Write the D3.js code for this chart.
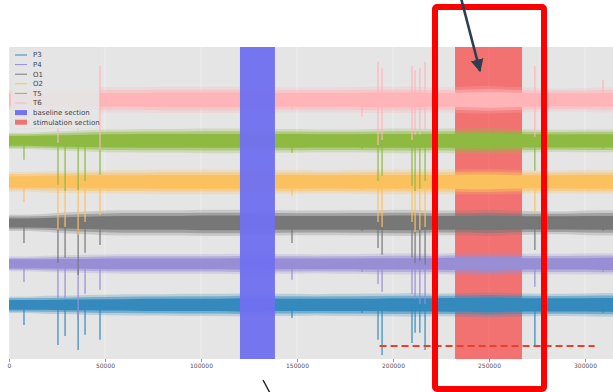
<!DOCTYPE html>
<html><head><meta charset="utf-8">
<script src="https://cdn.jsdelivr.net/npm/d3@7"></script>
<style>html,body{margin:0;padding:0;background:#fff;}svg{display:block;font-family:"DejaVu Sans",sans-serif;}</style>
</head><body>
<script>
// ---- data ----
const channels = ["P3","P4","O1","O2","T5","T6"];
const channelColors = ["#348ABD","#988ED5","#777777","#FBC15E","#8EBA42","#FFB5B8"];
const channelOffsets = [0,100,200,300,400,500];
const sampleTimes = d3.range(0, 330000, 10000); // 0..320000
// dense core amplitude (half-width) and outer peak amplitude per channel
const p3Core = [12,12,12,13,13,14,14,15,15,15,15,15,16,16,15,15,15,15,15,15,16,16,16,17,17,18,17,16,16,16,16,17,17];
const p3Peak = [20,20,22,22,24,25,26,26,26,27,27,27,28,28,27,27,26,27,27,28,28,29,28,28,29,30,29,28,27,27,28,29,29];
const p4Core = [11,11,11,12,12,13,13,13,13,13,13,13,14,14,13,13,13,13,13,14,14,14,14,15,15,16,15,14,14,14,14,15,15];
const p4Peak = [18,18,20,21,22,23,24,24,24,24,24,24,25,25,24,24,23,24,24,25,26,26,25,26,27,28,27,25,25,25,26,26,26];
const o1Core = [11,11,12,14,15,16,17,17,17,17,18,18,18,18,17,17,17,17,17,17,18,18,17,17,17,18,17,16,16,16,17,17,17];
const o1Peak = [20,20,22,26,28,30,31,31,31,31,32,32,32,32,31,30,30,30,31,31,32,32,30,30,30,32,30,29,28,28,30,31,31];
const o2Core = [14,14,15,15,16,16,16,16,17,17,17,17,17,17,17,17,16,16,17,17,17,17,17,17,18,18,17,16,16,16,17,17,17];
const o2Peak = [24,24,26,27,28,28,29,29,30,30,30,30,30,30,29,29,28,28,29,30,30,30,30,30,31,31,30,28,28,28,29,29,29];
const t5Core = [12,12,13,14,15,16,16,17,17,17,17,17,17,17,17,17,16,16,16,17,17,17,17,17,18,18,17,16,16,16,16,16,16];
const t5Peak = [20,20,22,24,26,28,28,29,29,29,30,30,30,29,29,29,28,28,28,29,30,30,29,30,31,32,30,28,27,27,28,28,28];
const t6Core = [14,14,14,15,16,17,17,17,18,18,18,18,18,17,17,17,17,17,17,18,18,18,17,17,18,19,18,17,16,16,16,17,17];
const t6Peak = [24,24,25,27,30,31,31,31,32,32,32,32,32,31,30,30,30,30,31,32,32,32,30,31,33,34,32,30,28,28,29,31,31];
// artifact events and deflections
const eventTimes = [7800,25500,29200,36000,39600,47400,147400,183900,192200,194300,209900,211500,214000,216700,273900,309400];
const p3Down = [49,98,76,110,73,85,32,20,85,122,93,68,68,110,102,20];
const p4Down = [44,88,85,137,73,63,39,20,49,68,73,85,98,98,56,20];
const o1Down = [49,98,85,127,73,54,49,20,61,78,85,98,93,102,66,20];
const o2Down = [49,117,110,129,98,81,34,20,98,110,98,122,117,110,76,20];
const t5Down = [46,107,122,120,98,83,29,20,98,85,110,122,117,98,73,20];
const t6Down = [49,105,61,73,61,122,24,41,110,98,98,85,85,73,90,20];
const t6Up   = [12,24,20,20,20,83,12,12,93,78,83,73,78,93,83,49];
const baselineSection = [120300, 138500];
const stimulationSection = [232300, 267200];
const xTicks = [0,50000,100000,150000,200000,250000,300000];

const cores = [p3Core,p4Core,o1Core,o2Core,t5Core,t6Core];
const peaks = [p3Peak,p4Peak,o1Peak,o2Peak,t5Peak,t6Peak];
const downs = [p3Down,p4Down,o1Down,o2Down,t5Down,t6Down];

// ---- drawing ----
const W = 613, H = 392;
const svg = d3.select("body").append("svg").attr("width", W).attr("height", H);
const x = d3.scaleLinear().domain([0, 320000]).range([9, 9 + 320000*96/50000]);
const y = d3.scaleLinear().domain([-132, 629]).range([359, 47]);
const plotTop = y.range()[1], plotBottom = y.range()[0];

const defs = svg.append("defs");
defs.append("clipPath").attr("id","plotclip")
  .append("rect").attr("x", 9).attr("y", plotTop).attr("width", W - 9).attr("height", plotBottom - plotTop);

svg.append("rect").attr("x", 9).attr("y", plotTop).attr("width", W - 9).attr("height", plotBottom - plotTop).attr("fill", "#E5E5E5");
// grid
svg.append("g").selectAll("line").data(xTicks).join("line")
  .attr("x1", d => x(d)).attr("x2", d => x(d)).attr("y1", plotTop).attr("y2", plotBottom)
  .attr("stroke", "#fff").attr("stroke-width", 0.7).attr("stroke-opacity", 0.6);

const plot = svg.append("g").attr("clip-path", "url(#plotclip)");

// stimulation span (below traces)
plot.append("rect").attr("x", x(stimulationSection[0])).attr("y", plotTop)
  .attr("width", x(stimulationSection[1]) - x(stimulationSection[0])).attr("height", plotBottom - plotTop)
  .attr("fill", "#FF0000").attr("fill-opacity", 0.5);

channels.forEach((ch, c) => {
  const off = channelOffsets[c], col = channelColors[c];
  const g = plot.append("g");
  const band = (arr, k) => d3.area().x((d, i) => x(sampleTimes[i]))
      .y0((d, i) => y(off - k(i))).y1((d, i) => y(off + k(i)));
  const pk = peaks[c], co = cores[c];
  g.append("path").datum(pk).attr("d", band(pk, i => pk[i])).attr("fill", col).attr("fill-opacity", 0.25);
  g.append("path").datum(pk).attr("d", band(pk, i => (pk[i] + co[i]) / 2)).attr("fill", col).attr("fill-opacity", 0.5);
  g.append("path").datum(co).attr("d", band(co, i => co[i])).attr("fill", col);
  g.selectAll("line.ev").data(eventTimes).join("line").attr("class", "ev")
    .attr("x1", d => x(d)).attr("x2", d => x(d))
    .attr("y1", (d, i) => y(off + (c === 5 ? t6Up[i] : 10)))
    .attr("y2", (d, i) => y(off - downs[c][i]))
    .attr("stroke", col).attr("stroke-width", 1.2);
});

// baseline span (on top, nearly opaque)
plot.append("rect").attr("x", x(baselineSection[0])).attr("y", plotTop)
  .attr("width", x(baselineSection[1]) - x(baselineSection[0])).attr("height", plotBottom - plotTop)
  .attr("fill", "#7070F0").attr("fill-opacity", 0.96);

// x axis
const ax = svg.append("g").attr("transform", `translate(0,${plotBottom})`)
  .call(d3.axisBottom(x).tickValues(xTicks).tickFormat(d3.format("d")).tickSize(3).tickPadding(2));
ax.select(".domain").remove();
ax.selectAll(".tick line").attr("stroke", "#555").attr("stroke-width", 0.6);
ax.selectAll(".tick text").attr("fill", "#555").attr("font-size", 6).attr("font-family", "DejaVu Sans");

// legend
const lg = svg.append("g");
lg.append("rect").attr("x", 11).attr("y", 47.5).attr("width", 88).attr("height", 81)
  .attr("fill", "#E5E5E5").attr("fill-opacity", 0.92).attr("stroke", "#dcdcdc").attr("stroke-width", 0.5).attr("rx", 2);
const legendItems = channels.map((ch, i) => ({label: ch, color: channelColors[i], type: "line"}))
  .concat([{label: "baseline section", color: "#7272F2", type: "patch"},
           {label: "stimulation section", color: "#F27272", type: "patch"}]);
legendItems.forEach((it, i) => {
  const yy = 55 + i * 9.6;
  if (it.type === "line") {
    lg.append("line").attr("x1", 15).attr("x2", 27).attr("y1", yy).attr("y2", yy).attr("stroke", it.color).attr("stroke-width", 1);
  } else {
    lg.append("rect").attr("x", 15).attr("y", yy - 2.5).attr("width", 12).attr("height", 5).attr("fill", it.color);
  }
  lg.append("text").attr("x", 33).attr("y", yy + 2.3).attr("font-size", 7).attr("fill", "#444").text(it.label);
});

// annotations
svg.append("line").attr("x1", x(193000)).attr("x2", x(305000)).attr("y1", 346).attr("y2", 346)
  .attr("stroke", "#E8402B").attr("stroke-width", 2).attr("stroke-dasharray", "7,4");
svg.append("rect").attr("x", 435).attr("y", 7).attr("width", 109).attr("height", 382)
  .attr("fill", "none").attr("stroke", "#FF0000").attr("stroke-width", 6).attr("rx", 2);
defs.append("marker").attr("id", "ah").attr("viewBox", "0 0 10 10").attr("refX", 9).attr("refY", 5)
  .attr("markerWidth", 5).attr("markerHeight", 6).attr("markerUnits", "strokeWidth").attr("orient", "auto")
  .append("path").attr("d", "M0,0 L10,5 L0,10 z").attr("fill", "#2C3E50");
svg.append("line").attr("x1", 461).attr("y1", -2).attr("x2", 480).attr("y2", 71)
  .attr("stroke", "#2C3E50").attr("stroke-width", 2.6).attr("marker-end", "url(#ah)");
svg.append("line").attr("x1", 263).attr("y1", 380).attr("x2", 270).attr("y2", 393)
  .attr("stroke", "#111").attr("stroke-width", 1.3);
</script>
</body></html>
